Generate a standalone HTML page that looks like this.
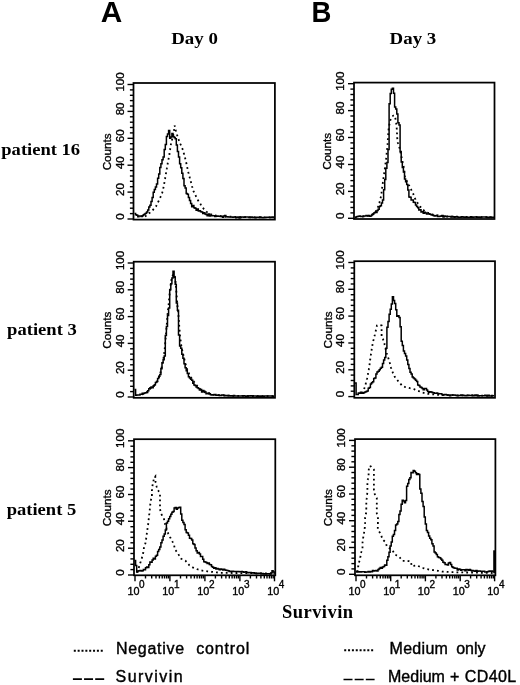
<!DOCTYPE html>
<html><head><meta charset="utf-8"><style>
html,body{margin:0;padding:0;background:#fff;}
body{width:520px;height:685px;overflow:hidden;}
svg{display:block;will-change:transform;}
</style></head><body>
<svg width="520" height="685" viewBox="0 0 520 685">
<rect width="520" height="685" fill="#fff"/>
<path d="M134.5,213.4H135.6V214.8H136.7V215.2H137.8V216.7H138.9V216.1H140.0V215.9H141.1V216.5H142.2V215.7H143.3V214.7H144.4V214.1H145.5V213.2H146.6V212.0H147.7V210.0H148.8V207.1H149.9V205.2H151.0V201.6H152.1V197.6H153.2V192.2H154.3V189.5H155.4V186.9H156.5V184.1H157.6V178.2H158.7V174.0H159.8V167.5H160.9V163.8H162.0V159.7H163.1V156.9H164.2V149.4H165.3V144.6H166.4V136.4H167.5V134.1H168.6V130.5H169.7V138.2H170.8V136.9H171.9V133.4H173.0V136.4H174.1V137.5H175.2V138.8H176.3V145.0H177.4V151.6H178.5V157.1H179.6V163.7H180.7V167.7H181.8V173.2H182.9V178.4H184.0V185.7H185.1V188.1H186.2V193.6H187.3V194.2H188.4V197.6H189.5V200.6H190.6V203.5H191.7V206.7H192.8V205.5H193.9V207.8H195.0V208.2H196.1V210.3H197.2V208.9H198.3V211.1H199.4V210.8H200.5V211.8H201.6V212.1H202.7V213.4H203.8V212.8H204.9V214.0H206.0V214.6H207.1V215.8H208.2V214.1H209.3V215.9H210.4V215.8H211.5V215.4H212.6V215.8H213.7V215.7H214.8V216.6H215.9V216.2H217.0V216.1H218.1V216.2H219.2V216.3H220.3V216.4H221.4V216.3H222.5V217.3H223.6V216.1H224.7V215.6H225.8V216.8H226.9V216.8H228.0V217.0H229.1V216.9H230.2V216.9H231.3V217.1H232.4V217.3H233.5V216.9H234.6V217.0H235.7V217.7H236.8V217.3H237.9V216.9H239.0V217.9H240.1V217.4H241.2V217.0H242.3V216.9H243.4V217.3H244.5V217.0H245.6V216.9H246.7V216.9H247.8V217.1H248.9V217.6H250.0V217.2H251.1V216.9H252.2V217.5H253.3V217.3H254.4V217.6H255.5V217.7H256.6V217.3H257.7V217.3H258.8V217.4H259.9V217.1H261.0V217.6H262.1V217.8H263.2V217.5H264.3V217.4H265.4V217.4H266.5V217.2H267.6V217.2H268.7V217.3H269.8V217.2H270.9V217.4H272.0V217.0H273.1V217.6H274.0" fill="none" stroke="#000" stroke-width="1.5" stroke-linejoin="miter"/>
<polyline points="145.0,216.5 146.0,215.7 146.9,214.9 147.9,214.2 148.9,213.4 149.8,212.7 150.7,211.9 151.6,211.2 152.5,210.5 153.2,209.6 154.0,208.7 154.7,207.9 155.5,207.0 156.2,206.1 156.6,205.2 157.1,204.3 157.6,203.4 158.0,202.4 158.4,201.5 158.9,200.6 159.4,199.7 159.8,198.8 160.2,197.8 160.6,196.7 161.0,195.7 161.5,194.6 161.9,193.6 162.3,192.5 162.7,191.5 162.9,190.4 163.1,189.4 163.3,188.3 163.5,187.3 163.7,186.2 163.9,185.2 164.1,184.1 164.3,183.1 164.5,182.0 164.7,181.0 164.9,179.9 165.1,178.9 165.2,177.9 165.4,176.9 165.6,175.8 165.7,174.8 165.9,173.8 166.1,172.8 166.3,171.8 166.4,170.8 166.6,169.7 166.8,168.7 166.9,167.7 167.1,166.7 167.3,165.6 167.5,164.6 167.7,163.5 167.9,162.4 168.1,161.4 168.3,160.3 168.5,159.3 168.7,158.2 168.9,157.1 169.1,156.1 169.3,155.0 169.5,154.0 169.6,153.0 169.8,151.9 169.9,150.9 170.1,149.9 170.2,148.9 170.4,147.9 170.5,146.8 170.7,145.8 170.8,144.8 171.1,143.6 171.4,142.5 171.6,141.3 171.9,140.2 172.2,139.0 172.4,138.0 172.7,137.0 172.9,136.1 173.2,135.1 173.4,134.1 173.7,133.1 173.8,132.0 174.0,130.9 174.1,129.8 174.2,128.8 174.3,127.7 174.5,126.6 174.6,125.5 174.9,126.6 175.2,127.7 175.4,128.8 175.7,129.9 176.0,131.0 176.3,132.0 176.6,133.0 176.9,134.0 177.1,135.0 177.4,136.0 177.7,137.0 178.0,138.0 178.4,139.0 178.8,140.0 179.2,141.0 179.6,142.0 180.0,143.0 180.4,144.0 180.9,145.1 181.3,146.1 181.7,147.1 182.2,148.2 182.6,149.2 182.9,150.2 183.2,151.2 183.5,152.3 183.8,153.3 184.1,154.3 184.3,155.3 184.6,156.3 184.9,157.4 185.2,158.4 185.5,159.4 185.7,160.4 185.9,161.4 186.2,162.5 186.4,163.5 186.6,164.5 186.8,165.5 187.0,166.5 187.3,167.6 187.5,168.6 187.7,169.6 187.9,170.6 188.2,171.6 188.4,172.5 188.7,173.5 188.9,174.5 189.2,175.4 189.4,176.4 189.7,177.4 189.9,178.4 190.2,179.4 190.4,180.3 190.7,181.3 191.0,182.3 191.3,183.3 191.6,184.4 191.9,185.4 192.1,186.4 192.4,187.4 192.7,188.4 193.0,189.5 193.3,190.5 193.6,191.5 194.1,192.5 194.6,193.5 195.1,194.4 195.6,195.4 196.0,196.4 196.5,197.4 197.0,198.3 197.5,199.3 198.0,200.3 198.6,201.2 199.2,202.0 199.7,202.9 200.3,203.8 200.9,204.7 201.5,205.5 202.1,206.4 202.6,207.3 203.2,208.1 203.8,209.0 204.5,209.7 205.3,210.5 206.0,211.2 206.7,211.9 207.5,212.7 208.2,213.4 209.2,213.7 210.1,214.0 211.1,214.3 212.1,214.6 213.1,214.9 214.0,215.2 215.0,215.5 216.0,215.6 217.0,215.7 218.0,215.8 219.0,215.9 220.0,216.0 221.0,216.1 222.0,216.2 223.0,216.3 224.0,216.4 225.0,216.5 226.0,216.5 227.0,216.6 228.0,216.6 229.0,216.6 230.0,216.7 231.0,216.7 232.0,216.7 233.0,216.8 234.0,216.8 235.0,216.8 236.0,216.9 237.0,216.9 238.0,217.0 239.0,217.0 240.0,217.0 241.0,217.1 242.0,217.1 243.0,217.1 244.0,217.2 245.0,217.2 246.0,217.2 247.0,217.2 248.0,217.2 249.0,217.2 250.0,217.3 251.0,217.3 252.0,217.3 253.0,217.3 254.0,217.3 255.0,217.3 256.0,217.3 257.0,217.3 258.0,217.3 259.0,217.3 260.0,217.4 261.0,217.4 262.0,217.4 263.0,217.4 264.0,217.4 265.0,217.4 266.0,217.4 267.0,217.4 268.0,217.4 269.0,217.4 270.0,217.5 271.0,217.5 272.0,217.5 273.0,217.5 274.0,217.5" fill="none" stroke="#000" stroke-width="1.8" stroke-dasharray="1.8 3.1"/>
<rect x="133.5" y="83.0" width="141.4" height="136.6" fill="none" stroke="#000" stroke-width="1.75"/>
<line x1="127.5" y1="219.0" x2="133.5" y2="219.0" stroke="#000" stroke-width="1.4"/>
<line x1="129.9" y1="213.6" x2="133.5" y2="213.6" stroke="#000" stroke-width="1.4"/>
<line x1="129.9" y1="208.2" x2="133.5" y2="208.2" stroke="#000" stroke-width="1.4"/>
<line x1="129.9" y1="202.9" x2="133.5" y2="202.9" stroke="#000" stroke-width="1.4"/>
<line x1="129.9" y1="197.5" x2="133.5" y2="197.5" stroke="#000" stroke-width="1.4"/>
<line x1="127.5" y1="192.1" x2="133.5" y2="192.1" stroke="#000" stroke-width="1.4"/>
<line x1="129.9" y1="186.7" x2="133.5" y2="186.7" stroke="#000" stroke-width="1.4"/>
<line x1="129.9" y1="181.3" x2="133.5" y2="181.3" stroke="#000" stroke-width="1.4"/>
<line x1="129.9" y1="176.0" x2="133.5" y2="176.0" stroke="#000" stroke-width="1.4"/>
<line x1="129.9" y1="170.6" x2="133.5" y2="170.6" stroke="#000" stroke-width="1.4"/>
<line x1="127.5" y1="165.2" x2="133.5" y2="165.2" stroke="#000" stroke-width="1.4"/>
<line x1="129.9" y1="159.8" x2="133.5" y2="159.8" stroke="#000" stroke-width="1.4"/>
<line x1="129.9" y1="154.4" x2="133.5" y2="154.4" stroke="#000" stroke-width="1.4"/>
<line x1="129.9" y1="149.1" x2="133.5" y2="149.1" stroke="#000" stroke-width="1.4"/>
<line x1="129.9" y1="143.7" x2="133.5" y2="143.7" stroke="#000" stroke-width="1.4"/>
<line x1="127.5" y1="138.3" x2="133.5" y2="138.3" stroke="#000" stroke-width="1.4"/>
<line x1="129.9" y1="132.9" x2="133.5" y2="132.9" stroke="#000" stroke-width="1.4"/>
<line x1="129.9" y1="127.5" x2="133.5" y2="127.5" stroke="#000" stroke-width="1.4"/>
<line x1="129.9" y1="122.2" x2="133.5" y2="122.2" stroke="#000" stroke-width="1.4"/>
<line x1="129.9" y1="116.8" x2="133.5" y2="116.8" stroke="#000" stroke-width="1.4"/>
<line x1="127.5" y1="111.4" x2="133.5" y2="111.4" stroke="#000" stroke-width="1.4"/>
<line x1="129.9" y1="106.0" x2="133.5" y2="106.0" stroke="#000" stroke-width="1.4"/>
<line x1="129.9" y1="100.6" x2="133.5" y2="100.6" stroke="#000" stroke-width="1.4"/>
<line x1="129.9" y1="95.3" x2="133.5" y2="95.3" stroke="#000" stroke-width="1.4"/>
<line x1="129.9" y1="89.9" x2="133.5" y2="89.9" stroke="#000" stroke-width="1.4"/>
<line x1="127.5" y1="84.5" x2="133.5" y2="84.5" stroke="#000" stroke-width="1.4"/>
<text transform="translate(123.5,216.5) rotate(-90)" text-anchor="middle" font-size="11.5" font-family="Liberation Sans, sans-serif" stroke="#000" stroke-width="0.35">0</text>
<text transform="translate(123.5,189.6) rotate(-90)" text-anchor="middle" font-size="11.5" font-family="Liberation Sans, sans-serif" stroke="#000" stroke-width="0.35">20</text>
<text transform="translate(123.5,162.7) rotate(-90)" text-anchor="middle" font-size="11.5" font-family="Liberation Sans, sans-serif" stroke="#000" stroke-width="0.35">40</text>
<text transform="translate(123.5,135.8) rotate(-90)" text-anchor="middle" font-size="11.5" font-family="Liberation Sans, sans-serif" stroke="#000" stroke-width="0.35">60</text>
<text transform="translate(123.5,108.9) rotate(-90)" text-anchor="middle" font-size="11.5" font-family="Liberation Sans, sans-serif" stroke="#000" stroke-width="0.35">80</text>
<text transform="translate(123.5,82.0) rotate(-90)" text-anchor="middle" font-size="11.5" font-family="Liberation Sans, sans-serif" stroke="#000" stroke-width="0.35">100</text>
<text transform="translate(110.9,151.8) rotate(-90)" text-anchor="middle" font-size="11.7" font-family="Liberation Sans, sans-serif" stroke="#000" stroke-width="0.35">Counts</text>
<path d="M355.0,217.6H356.1V216.8H357.2V216.4H358.3V216.2H359.4V215.9H360.5V216.5H361.6V216.4H362.7V216.5H363.8V216.0H364.9V216.1H366.0V215.6H367.1V215.7H368.2V215.4H369.3V216.3H370.4V215.9H371.5V214.9H372.6V214.2H373.7V213.0H374.8V212.6H375.9V212.6H377.0V210.4H378.1V209.3H379.2V206.6H380.3V205.7H381.4V203.0H382.5V199.9H383.6V189.7H384.7V179.4H385.8V168.2H386.9V162.6H388.0V149.5H389.1V103.8H390.2V93.5H391.3V89.2H392.4V88.2H393.5V93.3H394.6V106.9H395.7V109.0H396.8V114.0H397.9V122.7H399.0V125.0H400.1V151.4H401.2V162.0H402.3V167.5H403.4V172.1H404.5V178.9H405.6V181.8H406.7V184.6H407.8V189.9H408.9V197.0H410.0V197.3H411.1V200.1H412.2V199.9H413.3V202.2H414.4V202.4H415.5V205.0H416.6V206.4H417.7V207.8H418.8V210.0H419.9V209.7H421.0V212.1H422.1V211.7H423.2V213.2H424.3V212.2H425.4V213.0H426.5V214.1H427.6V214.1H428.7V213.7H429.8V214.2H430.9V214.8H432.0V214.9H433.1V215.5H434.2V215.9H435.3V215.8H436.4V215.6H437.5V216.4H438.6V216.6H439.7V216.2H440.8V215.9H441.9V215.6H443.0V216.9H444.1V216.1H445.2V216.5H446.3V216.5H447.4V216.6H448.5V216.5H449.6V216.5H450.7V217.1H451.8V216.4H452.9V216.7H454.0V217.2H455.1V216.7H456.2V216.8H457.3V217.1H458.4V217.2H459.5V217.2H460.6V216.9H461.7V216.8H462.8V217.1H463.9V217.2H465.0V216.9H466.1V217.2H467.2V217.3H468.3V217.3H469.4V217.3H470.5V216.8H471.6V217.2H472.7V217.3H473.8V216.9H474.9V217.0H476.0V217.0H477.1V217.2H478.2V217.1H479.3V217.2H480.4V217.4H481.5V216.9H482.6V216.9H483.7V217.0H484.8V217.0H485.9V217.0H487.0V217.5H488.1V217.5H489.2V217.0H490.3V217.3H491.4V217.2H492.5V217.2H493.6V217.2H494.0" fill="none" stroke="#000" stroke-width="1.5" stroke-linejoin="miter"/>
<polyline points="362.0,216.5 363.0,216.4 364.0,216.2 365.0,216.1 366.0,216.0 367.0,215.9 368.0,215.8 369.0,215.6 370.0,215.5 371.0,215.0 372.0,214.5 373.0,214.0 374.0,213.5 375.0,213.0 375.5,212.0 376.0,211.0 376.5,210.0 377.0,209.0 377.5,208.0 378.0,207.0 378.3,205.9 378.6,204.9 378.9,203.8 379.3,202.8 379.6,201.8 379.9,200.7 380.2,199.5 380.5,198.4 380.8,197.2 381.1,196.1 381.2,195.1 381.3,194.1 381.5,193.1 381.6,192.1 381.7,191.1 381.8,190.1 381.9,189.1 382.1,188.1 382.2,187.1 382.3,186.1 382.5,185.1 382.6,184.1 382.8,183.1 382.9,182.1 383.1,181.1 383.2,180.0 383.4,179.0 383.5,178.0 383.7,177.0 383.8,176.0 384.0,175.0 384.1,174.0 384.3,173.0 384.4,172.0 384.5,171.0 384.7,170.0 384.8,169.0 384.9,168.0 385.1,167.0 385.2,166.0 385.3,165.0 385.5,164.0 385.6,163.0 385.7,162.0 385.9,161.0 386.0,160.0 386.1,159.0 386.2,158.0 386.3,157.0 386.4,156.0 386.5,155.0 386.6,154.0 386.7,153.0 386.8,152.0 386.9,151.0 387.0,150.0 387.1,149.0 387.2,148.0 387.3,147.0 387.4,146.0 387.5,145.0 387.6,144.0 387.6,143.0 387.7,142.0 387.8,141.0 387.8,140.0 387.9,139.0 388.0,138.0 388.0,137.0 388.1,136.0 388.2,135.0 388.2,134.0 388.3,133.0 388.4,132.0 388.4,131.0 388.5,130.0 388.7,129.0 388.8,128.0 389.0,127.0 389.2,126.0 389.3,125.0 389.5,124.0 389.7,123.0 389.8,122.0 390.0,121.0 390.5,119.9 391.0,118.8 391.5,117.6 392.0,116.5 393.5,115.6 395.0,116.0 395.2,117.0 395.3,118.0 395.5,119.0 395.7,120.0 395.8,121.0 396.0,122.0 396.2,123.0 396.3,124.0 396.5,125.0 396.6,126.0 396.6,127.1 396.7,128.2 396.8,129.2 396.8,130.2 396.9,131.3 396.9,132.3 397.0,133.4 397.1,134.5 397.1,135.5 397.2,136.6 397.2,137.6 397.3,138.7 397.4,139.7 397.4,140.8 397.5,141.8 397.9,143.0 398.4,144.1 398.8,145.2 399.2,146.4 399.4,147.5 399.7,148.5 399.9,149.6 400.1,150.6 400.4,151.7 400.6,152.8 400.8,153.8 401.0,154.9 401.3,155.9 401.5,157.0 401.7,158.0 401.9,159.0 402.2,160.0 402.4,161.0 402.6,162.0 402.8,163.0 403.0,164.0 403.2,165.0 403.5,166.0 403.7,167.0 403.9,168.0 404.0,169.0 404.1,170.1 404.3,171.1 404.4,172.2 404.5,173.2 404.6,174.3 404.8,175.3 404.9,176.4 405.0,177.4 405.5,178.4 406.0,179.3 406.5,180.3 407.0,181.3 407.5,182.2 408.0,183.2 408.5,184.1 408.9,185.1 409.4,186.0 409.8,187.0 410.3,187.9 410.8,188.9 411.3,189.8 411.8,190.8 412.2,191.8 412.7,192.7 413.2,193.7 413.6,194.9 414.0,196.0 414.4,197.2 415.0,198.4 415.5,199.5 416.1,200.7 416.7,201.6 417.3,202.4 417.8,203.3 418.4,204.1 419.0,205.0 419.6,205.8 420.2,206.6 420.8,207.4 421.4,208.2 422.0,209.0 422.8,209.6 423.6,210.2 424.4,210.8 425.2,211.4 426.0,212.0 427.0,212.4 428.0,212.8 429.0,213.2 430.0,213.7 431.0,214.1 432.0,214.5 433.0,214.7 434.0,214.8 435.0,215.0 436.0,215.1 437.0,215.3 438.0,215.4 439.0,215.6 440.0,215.7 441.0,215.9 442.0,216.0 443.0,216.2 444.0,216.3 445.0,216.5 446.0,216.5 447.0,216.5 448.0,216.5 449.0,216.6 450.0,216.6 451.0,216.6 452.0,216.6 453.0,216.6 454.0,216.6 455.0,216.7 456.0,216.7 457.0,216.7 458.0,216.7 459.0,216.7 460.0,216.7 461.0,216.8 462.0,216.8 463.0,216.8 464.0,216.8 465.0,216.8 466.0,216.8 467.0,216.9 468.0,216.9 469.0,216.9 470.0,216.9 471.0,216.9 472.0,216.9 473.0,217.0 474.0,217.0 475.0,217.0 476.0,217.0 477.0,217.0 478.0,217.0 479.0,217.1 480.0,217.1 481.0,217.1 482.0,217.1 483.0,217.1 484.0,217.1 485.0,217.2 486.0,217.2 487.0,217.2 488.0,217.2 489.0,217.2 490.0,217.2 491.0,217.3 492.0,217.3 493.0,217.3 494.0,217.3" fill="none" stroke="#000" stroke-width="1.8" stroke-dasharray="1.8 3.1"/>
<rect x="354.0" y="82.6" width="140.5" height="136.4" fill="none" stroke="#000" stroke-width="1.75"/>
<line x1="348.0" y1="218.3" x2="354.0" y2="218.3" stroke="#000" stroke-width="1.4"/>
<line x1="350.4" y1="212.9" x2="354.0" y2="212.9" stroke="#000" stroke-width="1.4"/>
<line x1="350.4" y1="207.5" x2="354.0" y2="207.5" stroke="#000" stroke-width="1.4"/>
<line x1="350.4" y1="202.1" x2="354.0" y2="202.1" stroke="#000" stroke-width="1.4"/>
<line x1="350.4" y1="196.8" x2="354.0" y2="196.8" stroke="#000" stroke-width="1.4"/>
<line x1="348.0" y1="191.4" x2="354.0" y2="191.4" stroke="#000" stroke-width="1.4"/>
<line x1="350.4" y1="186.0" x2="354.0" y2="186.0" stroke="#000" stroke-width="1.4"/>
<line x1="350.4" y1="180.6" x2="354.0" y2="180.6" stroke="#000" stroke-width="1.4"/>
<line x1="350.4" y1="175.2" x2="354.0" y2="175.2" stroke="#000" stroke-width="1.4"/>
<line x1="350.4" y1="169.8" x2="354.0" y2="169.8" stroke="#000" stroke-width="1.4"/>
<line x1="348.0" y1="164.5" x2="354.0" y2="164.5" stroke="#000" stroke-width="1.4"/>
<line x1="350.4" y1="159.1" x2="354.0" y2="159.1" stroke="#000" stroke-width="1.4"/>
<line x1="350.4" y1="153.7" x2="354.0" y2="153.7" stroke="#000" stroke-width="1.4"/>
<line x1="350.4" y1="148.3" x2="354.0" y2="148.3" stroke="#000" stroke-width="1.4"/>
<line x1="350.4" y1="142.9" x2="354.0" y2="142.9" stroke="#000" stroke-width="1.4"/>
<line x1="348.0" y1="137.5" x2="354.0" y2="137.5" stroke="#000" stroke-width="1.4"/>
<line x1="350.4" y1="132.2" x2="354.0" y2="132.2" stroke="#000" stroke-width="1.4"/>
<line x1="350.4" y1="126.8" x2="354.0" y2="126.8" stroke="#000" stroke-width="1.4"/>
<line x1="350.4" y1="121.4" x2="354.0" y2="121.4" stroke="#000" stroke-width="1.4"/>
<line x1="350.4" y1="116.0" x2="354.0" y2="116.0" stroke="#000" stroke-width="1.4"/>
<line x1="348.0" y1="110.6" x2="354.0" y2="110.6" stroke="#000" stroke-width="1.4"/>
<line x1="350.4" y1="105.2" x2="354.0" y2="105.2" stroke="#000" stroke-width="1.4"/>
<line x1="350.4" y1="99.9" x2="354.0" y2="99.9" stroke="#000" stroke-width="1.4"/>
<line x1="350.4" y1="94.5" x2="354.0" y2="94.5" stroke="#000" stroke-width="1.4"/>
<line x1="350.4" y1="89.1" x2="354.0" y2="89.1" stroke="#000" stroke-width="1.4"/>
<line x1="348.0" y1="83.7" x2="354.0" y2="83.7" stroke="#000" stroke-width="1.4"/>
<text transform="translate(344.0,215.8) rotate(-90)" text-anchor="middle" font-size="11.5" font-family="Liberation Sans, sans-serif" stroke="#000" stroke-width="0.35">0</text>
<text transform="translate(344.0,188.9) rotate(-90)" text-anchor="middle" font-size="11.5" font-family="Liberation Sans, sans-serif" stroke="#000" stroke-width="0.35">20</text>
<text transform="translate(344.0,162.0) rotate(-90)" text-anchor="middle" font-size="11.5" font-family="Liberation Sans, sans-serif" stroke="#000" stroke-width="0.35">40</text>
<text transform="translate(344.0,135.0) rotate(-90)" text-anchor="middle" font-size="11.5" font-family="Liberation Sans, sans-serif" stroke="#000" stroke-width="0.35">60</text>
<text transform="translate(344.0,108.1) rotate(-90)" text-anchor="middle" font-size="11.5" font-family="Liberation Sans, sans-serif" stroke="#000" stroke-width="0.35">80</text>
<text transform="translate(344.0,81.2) rotate(-90)" text-anchor="middle" font-size="11.5" font-family="Liberation Sans, sans-serif" stroke="#000" stroke-width="0.35">100</text>
<text transform="translate(331.4,151.3) rotate(-90)" text-anchor="middle" font-size="11.7" font-family="Liberation Sans, sans-serif" stroke="#000" stroke-width="0.35">Counts</text>
<path d="M134.5,389.5H135.6V395.2H136.7V394.9H137.8V394.9H138.9V394.9H140.0V394.2H141.1V394.2H142.2V393.2H143.3V393.4H144.4V392.9H145.5V392.7H146.6V392.5H147.7V390.8H148.8V388.8H149.9V387.8H151.0V386.9H152.1V387.7H153.2V385.8H154.3V384.7H155.4V382.5H156.5V381.6H157.6V378.6H158.7V376.2H159.8V374.6H160.9V368.8H162.0V362.7H163.1V359.8H164.2V355.9H165.3V335.6H166.4V326.5H167.5V315.4H168.6V307.9H169.7V289.7H170.8V283.7H171.9V278.1H173.0V271.3H174.1V276.9H175.2V284.2H176.3V303.0H177.4V310.3H178.5V335.1H179.6V345.9H180.7V348.3H181.8V354.2H182.9V358.2H184.0V363.8H185.1V367.8H186.2V370.8H187.3V373.4H188.4V376.7H189.5V378.1H190.6V379.3H191.7V380.3H192.8V383.2H193.9V384.9H195.0V385.5H196.1V386.9H197.2V387.8H198.3V388.4H199.4V390.0H200.5V389.6H201.6V391.9H202.7V390.5H203.8V391.3H204.9V392.0H206.0V393.7H207.1V393.4H208.2V392.9H209.3V393.8H210.4V394.7H211.5V394.9H212.6V394.7H213.7V394.7H214.8V394.6H215.9V395.3H217.0V395.2H218.1V395.0H219.2V395.4H220.3V395.5H221.4V395.0H222.5V395.1H223.6V395.3H224.7V395.7H225.8V395.4H226.9V395.8H228.0V395.6H229.1V395.8H230.2V396.1H231.3V395.8H232.4V396.0H233.5V395.6H234.6V396.0H235.7V396.0H236.8V396.0H237.9V395.9H239.0V395.9H240.1V396.0H241.2V396.1H242.3V395.7H243.4V395.7H244.5V396.1H245.6V396.2H246.7V396.0H247.8V395.9H248.9V396.1H250.0V395.8H251.1V395.9H252.2V395.8H253.3V396.1H254.4V395.9H255.5V395.9H256.6V396.2H257.7V396.3H258.8V395.9H259.9V396.2H261.0V396.0H262.1V396.3H263.2V396.2H264.3V396.0H265.4V396.0H266.5V395.9H267.6V396.1H268.7V396.1H269.8V396.0H270.9V396.1H272.0V396.1H273.1V396.4H274.0" fill="none" stroke="#000" stroke-width="1.5" stroke-linejoin="miter"/>
<polyline points="142.0,394.5 143.0,394.1 144.0,393.8 145.0,393.4 146.0,393.0 146.8,392.2 147.6,391.4 148.4,390.6 149.2,389.8 150.0,389.0 150.8,388.4 151.6,387.8 152.4,387.2 153.2,386.6 154.0,386.0 154.6,385.2 155.2,384.3 155.8,383.5 156.3,382.7 156.9,381.8 157.5,381.0 157.9,380.0 158.3,379.0 158.8,378.0 159.2,377.0 159.6,376.0 160.0,375.0 160.2,374.0 160.4,373.0 160.6,372.0 160.9,371.0 161.1,370.0 161.3,369.0 161.5,368.0 161.7,367.0 161.9,366.0 162.1,365.0 162.4,364.0 162.6,363.0 162.8,362.0 163.0,361.0 163.2,360.0 163.3,359.0 163.5,358.0 163.7,357.0 163.8,356.0 164.0,355.0 164.1,354.0 164.2,353.0 164.3,352.0 164.4,351.0 164.6,350.0 164.7,349.0 164.8,348.0 164.9,347.0 165.0,346.0 165.1,345.0 165.2,344.0 165.2,343.0 165.3,342.0 165.4,341.0 165.5,340.0 165.6,339.0 165.7,338.0 165.8,337.0 165.8,336.0 165.9,335.0 166.0,334.0 166.1,333.0 166.2,332.0 166.2,331.0 166.3,330.0 166.4,329.0 166.5,328.0 166.6,327.0 166.6,326.0 166.7,325.0 166.8,324.0 166.9,323.0 167.0,322.0 167.0,321.0 167.1,320.0 167.2,319.0 167.3,318.0 167.3,317.0 167.4,316.0 167.5,315.0 167.6,314.0 167.7,313.0 167.8,312.0 167.9,311.0 168.1,310.0 168.2,309.0 168.3,308.0 168.4,307.0 168.5,306.0 168.6,305.0 168.7,304.0 168.8,303.0 168.9,302.0 168.9,301.0 169.0,300.0 169.1,299.0 169.2,298.0 169.3,297.0 169.4,296.0 169.5,295.0 169.6,294.0 169.7,293.0 169.8,292.0 169.9,291.0 170.0,290.0 170.1,289.0 170.2,288.0 170.4,287.0 170.5,286.0 170.6,285.0 170.8,284.0 170.9,283.0 171.0,282.0 171.2,281.0 171.4,280.0 171.6,279.0 171.8,278.0 172.0,277.0 172.5,276.0 173.0,275.0 173.5,274.0 173.9,275.0 174.4,276.0 174.9,277.0 175.3,278.0 175.4,279.0 175.5,280.0 175.5,281.0 175.6,282.0 175.7,283.0 175.8,284.0 175.8,285.0 175.9,286.0 176.0,287.0 176.1,288.0 176.1,289.0 176.2,290.0 176.3,291.0 176.4,292.0 176.4,293.0 176.5,294.0 176.6,295.0 176.7,296.0 176.7,297.0 176.8,298.0 176.9,299.0 176.9,300.0 177.0,301.0 177.1,302.0 177.1,303.0 177.2,304.0 177.3,305.0 177.4,306.0 177.6,307.0 177.7,308.0 177.8,309.0 177.9,310.0 178.1,311.0 178.2,312.0 178.3,313.0 178.3,314.0 178.4,315.0 178.5,316.0 178.6,317.0 178.7,318.0 178.7,319.0 178.8,320.0 178.9,321.0 179.0,322.0 179.0,323.0 179.1,324.0 179.2,325.0 179.2,326.0 179.3,327.0 179.4,328.0 179.5,329.0 179.6,330.0 179.6,331.0 179.7,332.0 179.8,333.0 179.9,334.0 179.9,335.0 180.0,336.0 180.1,337.0 180.2,338.0 180.4,339.0 180.5,340.0 180.6,341.0 180.8,342.0 180.9,343.0 181.0,344.0 181.2,345.0 181.3,346.0 181.5,347.0 181.8,348.0 182.0,349.0 182.2,350.0 182.5,351.0 182.7,352.0 182.9,353.0 183.2,354.0 183.4,355.0 183.7,356.1 183.9,357.1 184.2,358.2 184.4,359.2 184.7,360.3 184.9,361.4 185.2,362.4 185.4,363.5 185.7,364.5 186.0,365.5 186.3,366.5 186.6,367.5 186.9,368.5 187.2,369.5 187.5,370.5 187.9,371.4 188.3,372.3 188.8,373.2 189.2,374.2 189.6,375.1 190.0,376.0 190.6,376.9 191.2,377.8 191.8,378.7 192.4,379.6 193.0,380.5 193.6,381.3 194.2,382.1 194.8,382.9 195.4,383.7 196.0,384.5 196.8,385.4 197.5,386.2 198.2,387.1 199.0,388.0 199.8,388.7 200.6,389.4 201.4,390.1 202.2,390.8 203.0,391.5 204.0,391.9 205.0,392.3 206.0,392.7 207.0,393.1 208.0,393.5 209.0,393.7 210.0,393.9 211.0,394.1 212.0,394.4 213.0,394.6 214.0,394.8 215.0,395.0 216.0,395.1 217.0,395.1 218.0,395.2 219.0,395.2 220.0,395.3 221.0,395.3 222.0,395.4 223.0,395.4 224.0,395.5 225.0,395.5 226.0,395.6 227.0,395.6 228.0,395.7 229.0,395.7 230.0,395.8 231.0,395.8 232.0,395.8 233.0,395.8 234.0,395.8 235.0,395.8 236.0,395.9 237.0,395.9 238.0,395.9 239.0,395.9 240.0,395.9 241.0,395.9 242.0,395.9 243.0,395.9 244.0,395.9 245.0,395.9 246.0,395.9 247.0,396.0 248.0,396.0 249.0,396.0 250.0,396.0 251.0,396.0 252.0,396.0 253.0,396.0 254.0,396.0 255.0,396.0 256.0,396.0 257.0,396.0 258.0,396.1 259.0,396.1 260.0,396.1 261.0,396.1 262.0,396.1 263.0,396.1 264.0,396.1 265.0,396.1 266.0,396.1 267.0,396.1 268.0,396.1 269.0,396.2 270.0,396.2 271.0,396.2 272.0,396.2 273.0,396.2 274.0,396.2" fill="none" stroke="#000" stroke-width="1.8" stroke-dasharray="1.8 3.1"/>
<rect x="133.7" y="261.7" width="141.3" height="136.1" fill="none" stroke="#000" stroke-width="1.75"/>
<line x1="127.7" y1="397.0" x2="133.7" y2="397.0" stroke="#000" stroke-width="1.4"/>
<line x1="130.1" y1="391.6" x2="133.7" y2="391.6" stroke="#000" stroke-width="1.4"/>
<line x1="130.1" y1="386.3" x2="133.7" y2="386.3" stroke="#000" stroke-width="1.4"/>
<line x1="130.1" y1="380.9" x2="133.7" y2="380.9" stroke="#000" stroke-width="1.4"/>
<line x1="130.1" y1="375.6" x2="133.7" y2="375.6" stroke="#000" stroke-width="1.4"/>
<line x1="127.7" y1="370.2" x2="133.7" y2="370.2" stroke="#000" stroke-width="1.4"/>
<line x1="130.1" y1="364.8" x2="133.7" y2="364.8" stroke="#000" stroke-width="1.4"/>
<line x1="130.1" y1="359.5" x2="133.7" y2="359.5" stroke="#000" stroke-width="1.4"/>
<line x1="130.1" y1="354.1" x2="133.7" y2="354.1" stroke="#000" stroke-width="1.4"/>
<line x1="130.1" y1="348.8" x2="133.7" y2="348.8" stroke="#000" stroke-width="1.4"/>
<line x1="127.7" y1="343.4" x2="133.7" y2="343.4" stroke="#000" stroke-width="1.4"/>
<line x1="130.1" y1="338.0" x2="133.7" y2="338.0" stroke="#000" stroke-width="1.4"/>
<line x1="130.1" y1="332.7" x2="133.7" y2="332.7" stroke="#000" stroke-width="1.4"/>
<line x1="130.1" y1="327.3" x2="133.7" y2="327.3" stroke="#000" stroke-width="1.4"/>
<line x1="130.1" y1="322.0" x2="133.7" y2="322.0" stroke="#000" stroke-width="1.4"/>
<line x1="127.7" y1="316.6" x2="133.7" y2="316.6" stroke="#000" stroke-width="1.4"/>
<line x1="130.1" y1="311.2" x2="133.7" y2="311.2" stroke="#000" stroke-width="1.4"/>
<line x1="130.1" y1="305.9" x2="133.7" y2="305.9" stroke="#000" stroke-width="1.4"/>
<line x1="130.1" y1="300.5" x2="133.7" y2="300.5" stroke="#000" stroke-width="1.4"/>
<line x1="130.1" y1="295.2" x2="133.7" y2="295.2" stroke="#000" stroke-width="1.4"/>
<line x1="127.7" y1="289.8" x2="133.7" y2="289.8" stroke="#000" stroke-width="1.4"/>
<line x1="130.1" y1="284.4" x2="133.7" y2="284.4" stroke="#000" stroke-width="1.4"/>
<line x1="130.1" y1="279.1" x2="133.7" y2="279.1" stroke="#000" stroke-width="1.4"/>
<line x1="130.1" y1="273.7" x2="133.7" y2="273.7" stroke="#000" stroke-width="1.4"/>
<line x1="130.1" y1="268.4" x2="133.7" y2="268.4" stroke="#000" stroke-width="1.4"/>
<line x1="127.7" y1="263.0" x2="133.7" y2="263.0" stroke="#000" stroke-width="1.4"/>
<text transform="translate(123.7,394.5) rotate(-90)" text-anchor="middle" font-size="11.5" font-family="Liberation Sans, sans-serif" stroke="#000" stroke-width="0.35">0</text>
<text transform="translate(123.7,367.7) rotate(-90)" text-anchor="middle" font-size="11.5" font-family="Liberation Sans, sans-serif" stroke="#000" stroke-width="0.35">20</text>
<text transform="translate(123.7,340.9) rotate(-90)" text-anchor="middle" font-size="11.5" font-family="Liberation Sans, sans-serif" stroke="#000" stroke-width="0.35">40</text>
<text transform="translate(123.7,314.1) rotate(-90)" text-anchor="middle" font-size="11.5" font-family="Liberation Sans, sans-serif" stroke="#000" stroke-width="0.35">60</text>
<text transform="translate(123.7,287.3) rotate(-90)" text-anchor="middle" font-size="11.5" font-family="Liberation Sans, sans-serif" stroke="#000" stroke-width="0.35">80</text>
<text transform="translate(123.7,260.5) rotate(-90)" text-anchor="middle" font-size="11.5" font-family="Liberation Sans, sans-serif" stroke="#000" stroke-width="0.35">100</text>
<text transform="translate(111.1,330.2) rotate(-90)" text-anchor="middle" font-size="11.7" font-family="Liberation Sans, sans-serif" stroke="#000" stroke-width="0.35">Counts</text>
<path d="M355.0,383.1H356.1V394.5H357.2V394.6H358.3V392.9H359.4V393.2H360.5V392.3H361.6V393.3H362.7V393.3H363.8V392.6H364.9V391.9H366.0V391.6H367.1V390.9H368.2V388.3H369.3V387.6H370.4V384.0H371.5V382.7H372.6V381.8H373.7V378.6H374.8V378.1H375.9V374.1H377.0V371.9H378.1V371.2H379.2V369.7H380.3V368.2H381.4V367.3H382.5V363.4H383.6V360.1H384.7V357.6H385.8V348.3H386.9V327.3H388.0V321.4H389.1V314.3H390.2V309.2H391.3V304.0H392.4V296.8H393.5V300.4H394.6V303.4H395.7V309.7H396.8V316.2H397.9V315.7H399.0V317.6H400.1V326.7H401.2V341.3H402.3V345.4H403.4V350.9H404.5V353.4H405.6V356.0H406.7V360.1H407.8V364.4H408.9V368.5H410.0V372.2H411.1V374.1H412.2V377.0H413.3V377.9H414.4V379.1H415.5V380.2H416.6V381.6H417.7V385.1H418.8V385.4H419.9V387.1H421.0V387.6H422.1V388.5H423.2V389.7H424.3V388.5H425.4V388.4H426.5V390.0H427.6V391.6H428.7V392.2H429.8V391.7H430.9V392.0H432.0V392.6H433.1V392.7H434.2V393.2H435.3V393.3H436.4V393.0H437.5V393.5H438.6V393.8H439.7V393.7H440.8V393.8H441.9V394.7H443.0V395.1H444.1V394.5H445.2V394.6H446.3V395.1H447.4V395.0H448.5V394.9H449.6V395.7H450.7V395.0H451.8V395.1H452.9V395.1H454.0V395.1H455.1V395.3H456.2V395.6H457.3V395.8H458.4V395.6H459.5V395.4H460.6V395.1H461.7V395.4H462.8V395.2H463.9V395.4H465.0V395.8H466.1V395.6H467.2V395.4H468.3V395.3H469.4V395.5H470.5V395.6H471.6V395.3H472.7V395.4H473.8V395.8H474.9V395.1H476.0V395.5H477.1V395.3H478.2V396.1H479.3V395.8H480.4V395.8H481.5V395.8H482.6V395.8H483.7V395.8H484.8V395.3H485.9V395.8H487.0V395.9H488.1V395.3H489.2V396.0H490.3V395.9H491.4V395.4H492.5V395.7H493.6V395.7H494.0" fill="none" stroke="#000" stroke-width="1.5" stroke-linejoin="miter"/>
<polyline points="362.0,393.5 362.5,392.4 363.0,391.4 363.5,390.3 364.0,389.2 364.4,388.1 364.8,386.9 365.1,385.8 365.5,384.6 365.8,383.6 366.0,382.6 366.3,381.6 366.6,380.5 366.8,379.5 367.1,378.5 367.3,377.4 367.5,376.3 367.7,375.2 368.0,374.1 368.2,373.0 368.4,371.9 368.6,370.8 368.8,369.7 368.9,368.6 369.1,367.6 369.2,366.5 369.4,365.4 369.6,364.3 369.7,363.2 369.9,362.2 370.0,361.1 370.2,360.0 370.3,358.9 370.5,357.8 370.6,356.8 370.8,355.7 370.9,354.6 371.1,353.5 371.2,352.4 371.4,351.4 371.6,350.3 371.7,349.2 371.9,348.2 372.1,347.1 372.3,346.1 372.4,345.1 372.6,344.1 372.8,343.1 373.0,342.0 373.2,341.0 373.5,340.0 373.7,339.0 374.0,338.0 374.2,337.0 374.5,336.0 374.8,335.0 375.0,333.9 375.3,332.9 375.5,331.8 375.8,330.8 376.0,329.7 376.2,328.7 376.5,327.6 376.7,326.6 376.9,325.5 377.9,325.2 379.0,325.0 380.3,325.2 381.6,325.5 381.6,326.6 381.6,327.6 381.6,328.7 381.6,329.7 381.6,330.8 381.6,331.9 381.6,332.9 381.6,334.0 381.6,335.0 381.6,336.1 382.1,337.1 382.5,338.2 383.0,339.2 383.4,340.3 383.9,341.3 384.1,342.4 384.4,343.4 384.6,344.5 384.9,345.6 385.1,346.6 385.3,347.7 385.6,348.8 385.8,349.9 386.1,350.9 386.3,352.0 386.6,353.1 387.0,354.1 387.3,355.2 387.7,356.2 388.0,357.3 388.4,358.3 388.7,359.4 389.1,360.4 389.4,361.5 389.7,362.6 390.0,363.6 390.3,364.7 390.5,365.8 390.8,366.8 391.1,367.9 391.4,368.9 391.7,370.0 392.1,371.0 392.6,372.0 393.0,373.0 393.5,373.9 393.9,374.9 394.4,375.9 394.8,376.9 395.6,377.8 396.3,378.7 397.1,379.7 397.8,380.6 398.6,381.5 399.2,382.3 399.9,383.1 400.6,383.9 401.2,384.6 401.9,385.4 402.5,386.2 403.6,386.5 404.6,386.8 405.7,387.1 406.7,387.4 407.8,387.7 408.8,387.9 409.9,388.2 410.9,388.4 411.9,388.7 413.0,388.9 414.0,389.2 415.0,389.6 415.9,390.0 416.9,390.4 417.9,390.8 418.8,391.1 419.8,391.5 420.7,391.9 421.7,392.3 422.7,392.6 423.7,392.8 424.8,393.1 425.8,393.3 426.8,393.6 427.8,393.8 428.8,393.9 429.8,394.0 430.9,394.1 431.9,394.2 432.9,394.3 433.9,394.4 434.9,394.5 435.9,394.6 436.9,394.7 438.0,394.8 439.0,394.9 440.0,395.0 441.0,395.0 442.0,395.0 443.0,395.0 444.0,395.1 445.0,395.1 446.0,395.1 447.0,395.1 448.0,395.1 449.0,395.1 450.0,395.1 451.0,395.2 452.0,395.2 453.0,395.2 454.0,395.2 455.0,395.2 456.0,395.2 457.0,395.3 458.0,395.3 459.0,395.3 460.0,395.3 461.0,395.3 462.0,395.3 463.0,395.3 464.0,395.4 465.0,395.4 466.0,395.4 467.0,395.4 468.0,395.4 469.0,395.4 470.0,395.4 471.0,395.5 472.0,395.5 473.0,395.5 474.0,395.5 475.0,395.5 476.0,395.5 477.0,395.5 478.0,395.6 479.0,395.6 480.0,395.6 481.0,395.6 482.0,395.6 483.0,395.6 484.0,395.7 485.0,395.7 486.0,395.7 487.0,395.7 488.0,395.7 489.0,395.7 490.0,395.7 491.0,395.8 492.0,395.8 493.0,395.8 494.0,395.8" fill="none" stroke="#000" stroke-width="1.8" stroke-dasharray="1.8 3.1"/>
<rect x="354.3" y="261.2" width="140.7" height="136.6" fill="none" stroke="#000" stroke-width="1.75"/>
<line x1="348.3" y1="396.6" x2="354.3" y2="396.6" stroke="#000" stroke-width="1.4"/>
<line x1="350.7" y1="391.2" x2="354.3" y2="391.2" stroke="#000" stroke-width="1.4"/>
<line x1="350.7" y1="385.9" x2="354.3" y2="385.9" stroke="#000" stroke-width="1.4"/>
<line x1="350.7" y1="380.5" x2="354.3" y2="380.5" stroke="#000" stroke-width="1.4"/>
<line x1="350.7" y1="375.1" x2="354.3" y2="375.1" stroke="#000" stroke-width="1.4"/>
<line x1="348.3" y1="369.8" x2="354.3" y2="369.8" stroke="#000" stroke-width="1.4"/>
<line x1="350.7" y1="364.4" x2="354.3" y2="364.4" stroke="#000" stroke-width="1.4"/>
<line x1="350.7" y1="359.1" x2="354.3" y2="359.1" stroke="#000" stroke-width="1.4"/>
<line x1="350.7" y1="353.7" x2="354.3" y2="353.7" stroke="#000" stroke-width="1.4"/>
<line x1="350.7" y1="348.3" x2="354.3" y2="348.3" stroke="#000" stroke-width="1.4"/>
<line x1="348.3" y1="343.0" x2="354.3" y2="343.0" stroke="#000" stroke-width="1.4"/>
<line x1="350.7" y1="337.6" x2="354.3" y2="337.6" stroke="#000" stroke-width="1.4"/>
<line x1="350.7" y1="332.2" x2="354.3" y2="332.2" stroke="#000" stroke-width="1.4"/>
<line x1="350.7" y1="326.9" x2="354.3" y2="326.9" stroke="#000" stroke-width="1.4"/>
<line x1="350.7" y1="321.5" x2="354.3" y2="321.5" stroke="#000" stroke-width="1.4"/>
<line x1="348.3" y1="316.1" x2="354.3" y2="316.1" stroke="#000" stroke-width="1.4"/>
<line x1="350.7" y1="310.8" x2="354.3" y2="310.8" stroke="#000" stroke-width="1.4"/>
<line x1="350.7" y1="305.4" x2="354.3" y2="305.4" stroke="#000" stroke-width="1.4"/>
<line x1="350.7" y1="300.0" x2="354.3" y2="300.0" stroke="#000" stroke-width="1.4"/>
<line x1="350.7" y1="294.7" x2="354.3" y2="294.7" stroke="#000" stroke-width="1.4"/>
<line x1="348.3" y1="289.3" x2="354.3" y2="289.3" stroke="#000" stroke-width="1.4"/>
<line x1="350.7" y1="284.0" x2="354.3" y2="284.0" stroke="#000" stroke-width="1.4"/>
<line x1="350.7" y1="278.6" x2="354.3" y2="278.6" stroke="#000" stroke-width="1.4"/>
<line x1="350.7" y1="273.2" x2="354.3" y2="273.2" stroke="#000" stroke-width="1.4"/>
<line x1="350.7" y1="267.9" x2="354.3" y2="267.9" stroke="#000" stroke-width="1.4"/>
<line x1="348.3" y1="262.5" x2="354.3" y2="262.5" stroke="#000" stroke-width="1.4"/>
<text transform="translate(344.3,394.1) rotate(-90)" text-anchor="middle" font-size="11.5" font-family="Liberation Sans, sans-serif" stroke="#000" stroke-width="0.35">0</text>
<text transform="translate(344.3,367.3) rotate(-90)" text-anchor="middle" font-size="11.5" font-family="Liberation Sans, sans-serif" stroke="#000" stroke-width="0.35">20</text>
<text transform="translate(344.3,340.5) rotate(-90)" text-anchor="middle" font-size="11.5" font-family="Liberation Sans, sans-serif" stroke="#000" stroke-width="0.35">40</text>
<text transform="translate(344.3,313.6) rotate(-90)" text-anchor="middle" font-size="11.5" font-family="Liberation Sans, sans-serif" stroke="#000" stroke-width="0.35">60</text>
<text transform="translate(344.3,286.8) rotate(-90)" text-anchor="middle" font-size="11.5" font-family="Liberation Sans, sans-serif" stroke="#000" stroke-width="0.35">80</text>
<text transform="translate(344.3,260.0) rotate(-90)" text-anchor="middle" font-size="11.5" font-family="Liberation Sans, sans-serif" stroke="#000" stroke-width="0.35">100</text>
<text transform="translate(331.7,330.0) rotate(-90)" text-anchor="middle" font-size="11.7" font-family="Liberation Sans, sans-serif" stroke="#000" stroke-width="0.35">Counts</text>
<path d="M134.5,560.6H135.6V565.4H136.7V571.9H137.8V570.9H138.9V570.7H140.0V570.5H141.1V571.0H142.2V570.8H143.3V569.5H144.4V569.7H145.5V567.7H146.6V567.1H147.7V567.4H148.8V564.7H149.9V561.9H151.0V562.3H152.1V560.0H153.2V558.2H154.3V559.0H155.4V556.2H156.5V555.2H157.6V551.5H158.7V549.6H159.8V547.0H160.9V542.8H162.0V540.1H163.1V536.2H164.2V533.9H165.3V530.1H166.4V523.0H167.5V521.2H168.6V518.8H169.7V516.4H170.8V514.3H171.9V512.2H173.0V511.5H174.1V507.9H175.2V507.5H176.3V509.2H177.4V508.0H178.5V507.6H179.6V507.2H180.7V514.1H181.8V520.2H182.9V522.6H184.0V524.6H185.1V529.8H186.2V532.5H187.3V532.9H188.4V535.3H189.5V538.2H190.6V538.6H191.7V540.1H192.8V543.8H193.9V544.5H195.0V547.9H196.1V550.8H197.2V553.0H198.3V552.6H199.4V553.9H200.5V556.5H201.6V556.6H202.7V559.2H203.8V561.7H204.9V561.9H206.0V562.5H207.1V563.4H208.2V563.0H209.3V564.6H210.4V564.8H211.5V566.4H212.6V567.3H213.7V568.2H214.8V567.8H215.9V568.9H217.0V568.5H218.1V569.1H219.2V569.7H220.3V568.9H221.4V569.2H222.5V570.0H223.6V569.3H224.7V570.0H225.8V570.3H226.9V570.5H228.0V570.8H229.1V571.6H230.2V571.2H231.3V571.4H232.4V571.2H233.5V571.4H234.6V571.4H235.7V571.6H236.8V571.4H237.9V571.5H239.0V571.7H240.1V571.7H241.2V571.5H242.3V571.8H243.4V572.3H244.5V572.1H245.6V571.7H246.7V572.5H247.8V572.7H248.9V572.5H250.0V572.4H251.1V572.7H252.2V573.0H253.3V572.8H254.4V573.3H255.5V573.3H256.6V573.4H257.7V573.2H258.8V573.2H259.9V573.2H261.0V573.7H262.1V573.5H263.2V573.9H264.3V573.7H265.4V574.1H266.5V573.7H267.6V573.8H268.7V573.8H269.8V574.1H270.9V573.0H272.0V570.7H273.1V572.1H274.2V573.8H274.5" fill="none" stroke="#000" stroke-width="1.5" stroke-linejoin="miter"/>
<polyline points="137.0,572.5 137.4,571.5 137.8,570.5 138.2,569.5 138.6,568.5 138.9,567.4 139.2,566.3 139.6,565.3 139.9,564.2 140.2,563.1 140.6,562.0 140.9,560.8 141.3,559.6 141.7,558.5 142.0,557.4 142.3,556.3 142.6,555.3 142.9,554.2 143.2,553.1 143.4,552.0 143.5,550.9 143.7,549.9 143.8,548.8 144.0,547.7 144.4,546.6 144.8,545.4 145.1,544.2 145.5,543.1 145.7,542.0 145.8,540.9 146.0,539.9 146.1,538.8 146.3,537.7 146.4,536.7 146.6,535.6 146.7,534.6 146.8,533.6 147.0,532.5 147.1,531.5 147.3,530.4 147.4,529.3 147.6,528.2 147.8,527.1 147.9,526.1 148.0,525.0 148.2,524.0 148.3,522.9 148.4,521.9 148.5,520.9 148.6,519.8 148.8,518.8 148.9,517.7 149.0,516.7 149.1,515.7 149.2,514.6 149.4,513.6 149.5,512.5 149.6,511.5 149.7,510.5 149.8,509.4 149.9,508.4 150.0,507.3 150.1,506.3 150.2,505.3 150.3,504.2 150.5,503.2 150.6,502.1 150.7,501.1 150.9,500.1 151.2,499.1 151.4,498.0 151.7,497.0 151.9,496.0 151.9,495.0 151.9,493.9 151.9,492.9 151.9,491.8 151.9,490.8 152.0,489.8 152.1,488.7 152.3,487.7 152.4,486.6 152.5,485.6 152.7,484.5 152.9,483.4 153.1,482.3 153.4,481.3 153.6,480.2 153.8,479.1 154.0,478.0 155.3,476.5 155.3,477.5 155.4,478.5 155.4,479.5 155.5,480.5 155.5,481.5 155.7,482.5 156.0,483.5 156.2,484.5 156.4,485.5 156.6,486.5 156.9,487.5 157.1,488.5 157.7,489.5 158.3,490.5 158.8,491.6 159.4,492.6 160.0,493.6 160.0,494.6 160.0,495.7 160.0,496.7 160.0,497.8 160.0,498.8 160.0,499.8 160.0,500.9 160.0,501.9 160.0,503.0 160.0,504.0 160.0,505.0 160.0,506.1 160.0,507.1 160.0,508.2 160.0,509.2 160.3,510.3 160.6,511.5 160.8,512.6 161.1,513.8 161.7,514.8 162.3,515.9 162.8,516.9 163.4,518.0 164.0,519.0 164.2,520.0 164.4,521.1 164.7,522.1 164.9,523.2 165.1,524.2 165.4,525.2 165.8,526.3 166.2,527.3 166.5,528.4 166.8,529.4 167.2,530.4 167.5,531.5 167.9,532.5 168.2,533.6 168.6,534.6 169.1,535.5 169.6,536.4 170.1,537.3 170.7,538.2 171.2,539.1 171.7,540.0 172.2,540.9 172.6,541.8 173.1,542.8 173.5,543.7 174.0,544.6 174.2,545.8 174.4,546.9 174.6,548.1 174.8,549.2 175.6,550.2 176.3,551.2 177.1,552.1 177.8,553.1 178.3,554.0 178.8,554.9 179.4,555.8 179.9,556.7 180.4,557.6 180.9,558.5 181.8,559.0 182.7,559.4 183.7,559.9 184.6,560.3 185.5,560.8 186.2,561.6 186.8,562.3 187.4,563.1 188.1,563.9 188.8,564.6 189.4,565.4 190.3,566.0 191.3,566.5 192.2,567.1 193.2,567.7 194.2,568.1 195.1,568.5 196.1,568.8 197.1,569.2 198.1,569.5 199.1,569.7 200.1,570.0 201.2,570.3 202.2,570.5 203.2,570.8 204.2,570.9 205.3,571.0 206.3,571.1 207.3,571.3 208.4,571.4 209.4,571.5 210.5,571.6 211.5,571.8 212.6,571.9 213.6,572.0 214.7,572.1 215.8,572.3 216.8,572.4 217.9,572.5 218.9,572.7 220.0,572.8 221.0,572.8 222.0,572.8 223.0,572.8 224.0,572.9 225.0,572.9 226.0,572.9 227.0,572.9 228.0,572.9 229.0,572.9 230.0,572.9 231.0,572.9 232.0,573.0 233.0,573.0 234.0,573.0 235.0,573.0 236.0,573.0 237.0,573.0 238.0,573.0 239.0,573.0 240.0,573.1 241.0,573.1 242.0,573.1 243.0,573.1 244.0,573.1 245.0,573.1 246.0,573.1 247.0,573.1 248.0,573.2 249.0,573.2 250.0,573.2 251.0,573.2 252.0,573.2 253.0,573.2 254.0,573.2 255.0,573.3 256.0,573.3 257.0,573.3 258.0,573.3 259.0,573.3 260.0,573.3 261.0,573.3 262.0,573.3 263.0,573.4 264.0,573.4 265.0,573.4 266.0,573.4 267.0,573.4 268.0,573.4 269.0,573.4 270.0,573.4 271.0,573.5 272.0,573.5 273.0,573.5 274.0,573.5" fill="none" stroke="#000" stroke-width="1.8" stroke-dasharray="1.8 3.1"/>
<rect x="134.0" y="439.2" width="141.3" height="136.1" fill="none" stroke="#000" stroke-width="1.75"/>
<line x1="128.0" y1="575.0" x2="134.0" y2="575.0" stroke="#000" stroke-width="1.4"/>
<line x1="130.4" y1="569.6" x2="134.0" y2="569.6" stroke="#000" stroke-width="1.4"/>
<line x1="130.4" y1="564.3" x2="134.0" y2="564.3" stroke="#000" stroke-width="1.4"/>
<line x1="130.4" y1="558.9" x2="134.0" y2="558.9" stroke="#000" stroke-width="1.4"/>
<line x1="130.4" y1="553.5" x2="134.0" y2="553.5" stroke="#000" stroke-width="1.4"/>
<line x1="128.0" y1="548.2" x2="134.0" y2="548.2" stroke="#000" stroke-width="1.4"/>
<line x1="130.4" y1="542.8" x2="134.0" y2="542.8" stroke="#000" stroke-width="1.4"/>
<line x1="130.4" y1="537.4" x2="134.0" y2="537.4" stroke="#000" stroke-width="1.4"/>
<line x1="130.4" y1="532.1" x2="134.0" y2="532.1" stroke="#000" stroke-width="1.4"/>
<line x1="130.4" y1="526.7" x2="134.0" y2="526.7" stroke="#000" stroke-width="1.4"/>
<line x1="128.0" y1="521.3" x2="134.0" y2="521.3" stroke="#000" stroke-width="1.4"/>
<line x1="130.4" y1="516.0" x2="134.0" y2="516.0" stroke="#000" stroke-width="1.4"/>
<line x1="130.4" y1="510.6" x2="134.0" y2="510.6" stroke="#000" stroke-width="1.4"/>
<line x1="130.4" y1="505.2" x2="134.0" y2="505.2" stroke="#000" stroke-width="1.4"/>
<line x1="130.4" y1="499.8" x2="134.0" y2="499.8" stroke="#000" stroke-width="1.4"/>
<line x1="128.0" y1="494.5" x2="134.0" y2="494.5" stroke="#000" stroke-width="1.4"/>
<line x1="130.4" y1="489.1" x2="134.0" y2="489.1" stroke="#000" stroke-width="1.4"/>
<line x1="130.4" y1="483.7" x2="134.0" y2="483.7" stroke="#000" stroke-width="1.4"/>
<line x1="130.4" y1="478.4" x2="134.0" y2="478.4" stroke="#000" stroke-width="1.4"/>
<line x1="130.4" y1="473.0" x2="134.0" y2="473.0" stroke="#000" stroke-width="1.4"/>
<line x1="128.0" y1="467.6" x2="134.0" y2="467.6" stroke="#000" stroke-width="1.4"/>
<line x1="130.4" y1="462.3" x2="134.0" y2="462.3" stroke="#000" stroke-width="1.4"/>
<line x1="130.4" y1="456.9" x2="134.0" y2="456.9" stroke="#000" stroke-width="1.4"/>
<line x1="130.4" y1="451.5" x2="134.0" y2="451.5" stroke="#000" stroke-width="1.4"/>
<line x1="130.4" y1="446.2" x2="134.0" y2="446.2" stroke="#000" stroke-width="1.4"/>
<line x1="128.0" y1="440.8" x2="134.0" y2="440.8" stroke="#000" stroke-width="1.4"/>
<text transform="translate(124.0,572.5) rotate(-90)" text-anchor="middle" font-size="11.5" font-family="Liberation Sans, sans-serif" stroke="#000" stroke-width="0.35">0</text>
<text transform="translate(124.0,545.7) rotate(-90)" text-anchor="middle" font-size="11.5" font-family="Liberation Sans, sans-serif" stroke="#000" stroke-width="0.35">20</text>
<text transform="translate(124.0,518.8) rotate(-90)" text-anchor="middle" font-size="11.5" font-family="Liberation Sans, sans-serif" stroke="#000" stroke-width="0.35">40</text>
<text transform="translate(124.0,492.0) rotate(-90)" text-anchor="middle" font-size="11.5" font-family="Liberation Sans, sans-serif" stroke="#000" stroke-width="0.35">60</text>
<text transform="translate(124.0,465.1) rotate(-90)" text-anchor="middle" font-size="11.5" font-family="Liberation Sans, sans-serif" stroke="#000" stroke-width="0.35">80</text>
<text transform="translate(124.0,438.3) rotate(-90)" text-anchor="middle" font-size="11.5" font-family="Liberation Sans, sans-serif" stroke="#000" stroke-width="0.35">100</text>
<text transform="translate(111.4,507.8) rotate(-90)" text-anchor="middle" font-size="11.7" font-family="Liberation Sans, sans-serif" stroke="#000" stroke-width="0.35">Counts</text>
<line x1="135.0" y1="575.3" x2="135.0" y2="581.3" stroke="#000" stroke-width="1.4"/>
<line x1="145.5" y1="575.3" x2="145.5" y2="578.5" stroke="#000" stroke-width="1.4"/>
<line x1="151.7" y1="575.3" x2="151.7" y2="578.5" stroke="#000" stroke-width="1.4"/>
<line x1="156.0" y1="575.3" x2="156.0" y2="578.5" stroke="#000" stroke-width="1.4"/>
<line x1="159.4" y1="575.3" x2="159.4" y2="578.5" stroke="#000" stroke-width="1.4"/>
<line x1="162.2" y1="575.3" x2="162.2" y2="578.5" stroke="#000" stroke-width="1.4"/>
<line x1="164.5" y1="575.3" x2="164.5" y2="578.5" stroke="#000" stroke-width="1.4"/>
<line x1="166.6" y1="575.3" x2="166.6" y2="578.5" stroke="#000" stroke-width="1.4"/>
<line x1="168.4" y1="575.3" x2="168.4" y2="578.5" stroke="#000" stroke-width="1.4"/>
<line x1="169.9" y1="575.3" x2="169.9" y2="581.3" stroke="#000" stroke-width="1.4"/>
<line x1="180.5" y1="575.3" x2="180.5" y2="578.5" stroke="#000" stroke-width="1.4"/>
<line x1="186.6" y1="575.3" x2="186.6" y2="578.5" stroke="#000" stroke-width="1.4"/>
<line x1="191.0" y1="575.3" x2="191.0" y2="578.5" stroke="#000" stroke-width="1.4"/>
<line x1="194.4" y1="575.3" x2="194.4" y2="578.5" stroke="#000" stroke-width="1.4"/>
<line x1="197.1" y1="575.3" x2="197.1" y2="578.5" stroke="#000" stroke-width="1.4"/>
<line x1="199.5" y1="575.3" x2="199.5" y2="578.5" stroke="#000" stroke-width="1.4"/>
<line x1="201.5" y1="575.3" x2="201.5" y2="578.5" stroke="#000" stroke-width="1.4"/>
<line x1="203.3" y1="575.3" x2="203.3" y2="578.5" stroke="#000" stroke-width="1.4"/>
<line x1="204.9" y1="575.3" x2="204.9" y2="581.3" stroke="#000" stroke-width="1.4"/>
<line x1="215.4" y1="575.3" x2="215.4" y2="578.5" stroke="#000" stroke-width="1.4"/>
<line x1="221.6" y1="575.3" x2="221.6" y2="578.5" stroke="#000" stroke-width="1.4"/>
<line x1="225.9" y1="575.3" x2="225.9" y2="578.5" stroke="#000" stroke-width="1.4"/>
<line x1="229.3" y1="575.3" x2="229.3" y2="578.5" stroke="#000" stroke-width="1.4"/>
<line x1="232.1" y1="575.3" x2="232.1" y2="578.5" stroke="#000" stroke-width="1.4"/>
<line x1="234.4" y1="575.3" x2="234.4" y2="578.5" stroke="#000" stroke-width="1.4"/>
<line x1="236.5" y1="575.3" x2="236.5" y2="578.5" stroke="#000" stroke-width="1.4"/>
<line x1="238.3" y1="575.3" x2="238.3" y2="578.5" stroke="#000" stroke-width="1.4"/>
<line x1="239.9" y1="575.3" x2="239.9" y2="581.3" stroke="#000" stroke-width="1.4"/>
<line x1="250.4" y1="575.3" x2="250.4" y2="578.5" stroke="#000" stroke-width="1.4"/>
<line x1="256.5" y1="575.3" x2="256.5" y2="578.5" stroke="#000" stroke-width="1.4"/>
<line x1="260.9" y1="575.3" x2="260.9" y2="578.5" stroke="#000" stroke-width="1.4"/>
<line x1="264.3" y1="575.3" x2="264.3" y2="578.5" stroke="#000" stroke-width="1.4"/>
<line x1="267.0" y1="575.3" x2="267.0" y2="578.5" stroke="#000" stroke-width="1.4"/>
<line x1="269.4" y1="575.3" x2="269.4" y2="578.5" stroke="#000" stroke-width="1.4"/>
<line x1="271.4" y1="575.3" x2="271.4" y2="578.5" stroke="#000" stroke-width="1.4"/>
<line x1="273.2" y1="575.3" x2="273.2" y2="578.5" stroke="#000" stroke-width="1.4"/>
<line x1="274.5" y1="575.3" x2="274.5" y2="581.3" stroke="#000" stroke-width="1.4"/>
<text x="136.0" y="594.5" text-anchor="middle" font-size="10.8" font-family="Liberation Sans, sans-serif" stroke="#000" stroke-width="0.35">10<tspan font-size="10" dx="-0.5" dy="-6.3">0</tspan></text>
<text x="170.9" y="594.5" text-anchor="middle" font-size="10.8" font-family="Liberation Sans, sans-serif" stroke="#000" stroke-width="0.35">10<tspan font-size="10" dx="-0.5" dy="-6.3">1</tspan></text>
<text x="205.9" y="594.5" text-anchor="middle" font-size="10.8" font-family="Liberation Sans, sans-serif" stroke="#000" stroke-width="0.35">10<tspan font-size="10" dx="-0.5" dy="-6.3">2</tspan></text>
<text x="240.9" y="594.5" text-anchor="middle" font-size="10.8" font-family="Liberation Sans, sans-serif" stroke="#000" stroke-width="0.35">10<tspan font-size="10" dx="-0.5" dy="-6.3">3</tspan></text>
<text x="275.8" y="594.5" text-anchor="middle" font-size="10.8" font-family="Liberation Sans, sans-serif" stroke="#000" stroke-width="0.35">10<tspan font-size="10" dx="-0.5" dy="-6.3">4</tspan></text>
<path d="M356.0,572.1H357.1V571.4H358.2V572.0H359.3V571.8H360.4V571.9H361.5V571.8H362.6V571.8H363.7V571.8H364.8V572.2H365.9V571.9H367.0V571.9H368.1V571.6H369.2V572.1H370.3V571.5H371.4V571.7H372.5V570.4H373.6V571.1H374.7V570.8H375.8V570.4H376.9V571.0H378.0V569.6H379.1V568.5H380.2V567.4H381.3V568.2H382.4V567.1H383.5V566.6H384.6V565.0H385.7V565.3H386.8V560.3H387.9V556.7H389.0V552.2H390.1V546.0H391.2V541.9H392.3V536.3H393.4V534.5H394.5V530.6H395.6V525.1H396.7V523.9H397.8V521.4H398.9V514.6H400.0V511.1H401.1V504.3H402.2V500.3H403.3V501.0H404.4V502.8H405.5V500.4H406.6V486.3H407.7V483.5H408.8V479.4H409.9V477.8H411.0V472.4H412.1V472.7H413.2V470.6H414.3V471.3H415.4V472.7H416.5V474.4H417.6V473.8H418.7V474.4H419.8V489.0H420.9V493.3H422.0V501.6H423.1V506.5H424.2V517.0H425.3V523.9H426.4V530.5H427.5V532.5H428.6V535.9H429.7V538.3H430.8V539.8H431.9V543.7H433.0V546.1H434.1V551.9H435.2V552.9H436.3V554.4H437.4V556.7H438.5V557.4H439.6V557.8H440.7V558.9H441.8V560.2H442.9V562.2H444.0V562.7H445.1V564.6H446.2V564.6H447.3V565.1H448.4V563.1H449.5V562.4H450.6V564.6H451.7V566.8H452.8V567.4H453.9V567.9H455.0V568.2H456.1V568.3H457.2V569.9H458.3V569.0H459.4V569.3H460.5V570.2H461.6V569.8H462.7V569.8H463.8V569.8H464.9V570.7H466.0V569.5H467.1V569.7H468.2V570.3H469.3V569.5H470.4V570.2H471.5V571.1H472.6V570.5H473.7V570.9H474.8V571.2H475.9V570.6H477.0V571.2H478.1V571.0H479.2V570.9H480.3V571.3H481.4V571.5H482.5V571.3H483.6V571.3H484.7V571.9H485.8V571.9H486.9V571.7H488.0V571.5H489.1V571.1H490.2V571.2H491.3V571.1H492.4V571.6H493.5V571.8H493.5" fill="none" stroke="#000" stroke-width="1.5" stroke-linejoin="miter"/>
<polyline points="357.0,572.0 357.4,570.6 357.8,569.2 358.0,568.1 358.1,567.0 358.3,566.0 358.4,564.9 358.6,563.8 358.9,562.7 359.2,561.7 359.6,560.6 359.9,559.6 360.2,558.5 360.3,557.4 360.5,556.3 360.6,555.3 360.8,554.2 360.9,553.1 361.3,552.0 361.7,550.8 362.1,549.6 362.5,548.5 362.5,547.4 362.5,546.3 362.5,545.3 362.5,544.2 362.5,543.1 362.6,542.0 362.8,540.9 362.9,539.9 363.1,538.8 363.2,537.7 363.4,536.6 363.6,535.4 363.8,534.2 364.0,533.1 364.2,532.0 364.3,530.9 364.5,529.9 364.6,528.8 364.8,527.7 364.9,526.5 365.0,525.2 365.0,524.0 365.1,522.8 365.1,521.7 365.1,520.7 365.1,519.6 365.1,518.6 365.1,517.5 365.3,516.4 365.6,515.4 365.8,514.3 366.1,513.3 366.3,512.2 366.3,511.2 366.3,510.1 366.3,509.1 366.3,508.0 366.3,507.0 366.3,505.9 366.3,504.9 366.3,503.8 366.3,502.8 366.3,501.7 366.4,500.6 366.5,499.5 366.7,498.4 366.8,497.3 366.9,496.2 367.0,495.1 367.2,494.0 367.3,492.9 367.4,491.8 367.4,490.8 367.4,489.7 367.4,488.7 367.4,487.6 367.4,486.6 367.4,485.5 367.4,484.4 367.4,483.4 367.4,482.4 367.4,481.3 367.6,480.2 367.9,479.2 368.1,478.1 368.4,477.1 368.6,476.0 368.6,475.0 368.6,473.9 368.6,472.9 368.6,471.8 368.6,470.8 368.8,469.6 368.9,468.5 369.1,467.3 369.2,466.1 371.0,466.5 371.7,467.3 372.4,468.1 373.2,468.8 373.9,469.6 373.9,470.6 373.9,471.6 373.9,472.7 373.9,473.7 373.9,474.7 373.9,475.7 373.9,476.7 373.9,477.8 373.9,478.8 373.9,479.8 373.9,480.8 373.9,481.8 373.9,482.9 373.9,483.9 373.9,484.9 373.9,485.9 373.9,486.9 373.9,488.0 373.9,489.0 373.9,490.0 374.1,491.1 374.3,492.1 374.6,493.2 374.8,494.2 375.0,495.3 375.6,496.3 376.2,497.2 376.8,498.2 376.8,499.2 376.8,500.2 376.8,501.2 376.8,502.3 376.8,503.3 376.8,504.3 376.8,505.3 376.8,506.3 376.8,507.3 376.8,508.3 376.8,509.3 376.8,510.4 376.8,511.4 376.8,512.4 376.8,513.4 377.0,514.5 377.3,515.5 377.5,516.6 377.8,517.6 378.0,518.7 378.0,519.8 378.0,520.8 377.9,521.9 377.9,522.9 377.9,524.0 377.9,525.0 377.9,526.1 377.8,527.1 377.8,528.2 377.8,529.2 378.3,530.1 378.8,531.0 379.4,531.9 379.9,532.8 380.4,533.7 380.9,534.6 381.3,535.8 381.7,536.9 382.1,538.1 382.5,539.2 383.2,540.0 384.0,540.8 384.8,541.5 385.5,542.3 385.9,543.4 386.3,544.6 386.7,545.8 387.1,546.9 388.1,547.5 389.0,548.0 389.9,548.6 390.9,549.2 391.7,550.0 392.4,550.7 393.2,551.5 393.7,552.5 394.3,553.6 394.8,554.6 395.8,555.0 396.7,555.4 397.7,555.8 398.6,556.2 399.2,557.0 399.9,557.7 400.6,558.5 401.2,559.3 401.9,560.0 402.5,560.8 403.8,560.8 405.0,560.8 406.3,560.8 407.4,561.0 408.6,561.1 409.8,561.3 410.9,561.5 411.1,562.7 411.3,563.9 411.5,565.0 411.7,566.2 412.8,566.0 413.9,565.9 414.9,565.7 416.0,565.6 417.1,565.4 418.0,565.9 418.9,566.3 419.9,566.8 420.8,567.2 421.7,567.7 422.8,568.0 423.9,568.3 424.9,568.6 426.0,568.9 427.1,569.2 428.2,569.4 429.3,569.5 430.3,569.7 431.4,569.8 432.5,570.0 433.6,570.2 434.6,570.3 435.7,570.5 436.7,570.7 437.8,570.8 438.8,571.0 439.9,571.2 440.9,571.3 442.0,571.5 443.0,571.6 444.0,571.6 445.0,571.7 446.0,571.7 447.0,571.8 448.0,571.9 449.0,571.9 450.0,572.0 451.0,572.1 452.0,572.1 453.0,572.2 454.0,572.2 455.0,572.3 456.0,572.3 457.0,572.3 458.0,572.4 459.0,572.4 460.0,572.4 461.0,572.4 462.0,572.4 463.0,572.4 464.0,572.5 465.0,572.5 466.0,572.5 467.0,572.5 468.0,572.5 469.0,572.6 470.0,572.6 471.0,572.6 472.0,572.6 473.0,572.6 474.0,572.6 475.0,572.7 476.0,572.7 477.0,572.7 478.0,572.7 479.0,572.7 480.0,572.7 481.0,572.8 482.0,572.8 483.0,572.8 484.0,572.8 485.0,572.8 486.0,572.9 487.0,572.9 488.0,572.9 489.0,572.9 490.0,572.9 491.0,572.9 492.0,573.0 493.0,573.0 494.0,573.0" fill="none" stroke="#000" stroke-width="1.8" stroke-dasharray="1.8 3.1"/>
<rect x="355.0" y="439.1" width="140.4" height="136.2" fill="none" stroke="#000" stroke-width="1.75"/>
<line x1="349.0" y1="574.3" x2="355.0" y2="574.3" stroke="#000" stroke-width="1.4"/>
<line x1="351.4" y1="568.9" x2="355.0" y2="568.9" stroke="#000" stroke-width="1.4"/>
<line x1="351.4" y1="563.6" x2="355.0" y2="563.6" stroke="#000" stroke-width="1.4"/>
<line x1="351.4" y1="558.2" x2="355.0" y2="558.2" stroke="#000" stroke-width="1.4"/>
<line x1="351.4" y1="552.9" x2="355.0" y2="552.9" stroke="#000" stroke-width="1.4"/>
<line x1="349.0" y1="547.5" x2="355.0" y2="547.5" stroke="#000" stroke-width="1.4"/>
<line x1="351.4" y1="542.2" x2="355.0" y2="542.2" stroke="#000" stroke-width="1.4"/>
<line x1="351.4" y1="536.8" x2="355.0" y2="536.8" stroke="#000" stroke-width="1.4"/>
<line x1="351.4" y1="531.5" x2="355.0" y2="531.5" stroke="#000" stroke-width="1.4"/>
<line x1="351.4" y1="526.1" x2="355.0" y2="526.1" stroke="#000" stroke-width="1.4"/>
<line x1="349.0" y1="520.7" x2="355.0" y2="520.7" stroke="#000" stroke-width="1.4"/>
<line x1="351.4" y1="515.4" x2="355.0" y2="515.4" stroke="#000" stroke-width="1.4"/>
<line x1="351.4" y1="510.0" x2="355.0" y2="510.0" stroke="#000" stroke-width="1.4"/>
<line x1="351.4" y1="504.7" x2="355.0" y2="504.7" stroke="#000" stroke-width="1.4"/>
<line x1="351.4" y1="499.3" x2="355.0" y2="499.3" stroke="#000" stroke-width="1.4"/>
<line x1="349.0" y1="494.0" x2="355.0" y2="494.0" stroke="#000" stroke-width="1.4"/>
<line x1="351.4" y1="488.6" x2="355.0" y2="488.6" stroke="#000" stroke-width="1.4"/>
<line x1="351.4" y1="483.2" x2="355.0" y2="483.2" stroke="#000" stroke-width="1.4"/>
<line x1="351.4" y1="477.9" x2="355.0" y2="477.9" stroke="#000" stroke-width="1.4"/>
<line x1="351.4" y1="472.5" x2="355.0" y2="472.5" stroke="#000" stroke-width="1.4"/>
<line x1="349.0" y1="467.2" x2="355.0" y2="467.2" stroke="#000" stroke-width="1.4"/>
<line x1="351.4" y1="461.8" x2="355.0" y2="461.8" stroke="#000" stroke-width="1.4"/>
<line x1="351.4" y1="456.5" x2="355.0" y2="456.5" stroke="#000" stroke-width="1.4"/>
<line x1="351.4" y1="451.1" x2="355.0" y2="451.1" stroke="#000" stroke-width="1.4"/>
<line x1="351.4" y1="445.8" x2="355.0" y2="445.8" stroke="#000" stroke-width="1.4"/>
<line x1="349.0" y1="440.4" x2="355.0" y2="440.4" stroke="#000" stroke-width="1.4"/>
<text transform="translate(345.0,571.8) rotate(-90)" text-anchor="middle" font-size="11.5" font-family="Liberation Sans, sans-serif" stroke="#000" stroke-width="0.35">0</text>
<text transform="translate(345.0,545.0) rotate(-90)" text-anchor="middle" font-size="11.5" font-family="Liberation Sans, sans-serif" stroke="#000" stroke-width="0.35">20</text>
<text transform="translate(345.0,518.2) rotate(-90)" text-anchor="middle" font-size="11.5" font-family="Liberation Sans, sans-serif" stroke="#000" stroke-width="0.35">40</text>
<text transform="translate(345.0,491.5) rotate(-90)" text-anchor="middle" font-size="11.5" font-family="Liberation Sans, sans-serif" stroke="#000" stroke-width="0.35">60</text>
<text transform="translate(345.0,464.7) rotate(-90)" text-anchor="middle" font-size="11.5" font-family="Liberation Sans, sans-serif" stroke="#000" stroke-width="0.35">80</text>
<text transform="translate(345.0,437.9) rotate(-90)" text-anchor="middle" font-size="11.5" font-family="Liberation Sans, sans-serif" stroke="#000" stroke-width="0.35">100</text>
<text transform="translate(332.4,507.7) rotate(-90)" text-anchor="middle" font-size="11.7" font-family="Liberation Sans, sans-serif" stroke="#000" stroke-width="0.35">Counts</text>
<line x1="356.0" y1="575.3" x2="356.0" y2="581.3" stroke="#000" stroke-width="1.4"/>
<line x1="366.5" y1="575.3" x2="366.5" y2="578.5" stroke="#000" stroke-width="1.4"/>
<line x1="372.6" y1="575.3" x2="372.6" y2="578.5" stroke="#000" stroke-width="1.4"/>
<line x1="376.9" y1="575.3" x2="376.9" y2="578.5" stroke="#000" stroke-width="1.4"/>
<line x1="380.3" y1="575.3" x2="380.3" y2="578.5" stroke="#000" stroke-width="1.4"/>
<line x1="383.0" y1="575.3" x2="383.0" y2="578.5" stroke="#000" stroke-width="1.4"/>
<line x1="385.3" y1="575.3" x2="385.3" y2="578.5" stroke="#000" stroke-width="1.4"/>
<line x1="387.4" y1="575.3" x2="387.4" y2="578.5" stroke="#000" stroke-width="1.4"/>
<line x1="389.1" y1="575.3" x2="389.1" y2="578.5" stroke="#000" stroke-width="1.4"/>
<line x1="390.7" y1="575.3" x2="390.7" y2="581.3" stroke="#000" stroke-width="1.4"/>
<line x1="401.2" y1="575.3" x2="401.2" y2="578.5" stroke="#000" stroke-width="1.4"/>
<line x1="407.3" y1="575.3" x2="407.3" y2="578.5" stroke="#000" stroke-width="1.4"/>
<line x1="411.6" y1="575.3" x2="411.6" y2="578.5" stroke="#000" stroke-width="1.4"/>
<line x1="415.0" y1="575.3" x2="415.0" y2="578.5" stroke="#000" stroke-width="1.4"/>
<line x1="417.7" y1="575.3" x2="417.7" y2="578.5" stroke="#000" stroke-width="1.4"/>
<line x1="420.1" y1="575.3" x2="420.1" y2="578.5" stroke="#000" stroke-width="1.4"/>
<line x1="422.1" y1="575.3" x2="422.1" y2="578.5" stroke="#000" stroke-width="1.4"/>
<line x1="423.9" y1="575.3" x2="423.9" y2="578.5" stroke="#000" stroke-width="1.4"/>
<line x1="425.4" y1="575.3" x2="425.4" y2="581.3" stroke="#000" stroke-width="1.4"/>
<line x1="435.9" y1="575.3" x2="435.9" y2="578.5" stroke="#000" stroke-width="1.4"/>
<line x1="442.0" y1="575.3" x2="442.0" y2="578.5" stroke="#000" stroke-width="1.4"/>
<line x1="446.4" y1="575.3" x2="446.4" y2="578.5" stroke="#000" stroke-width="1.4"/>
<line x1="449.7" y1="575.3" x2="449.7" y2="578.5" stroke="#000" stroke-width="1.4"/>
<line x1="452.5" y1="575.3" x2="452.5" y2="578.5" stroke="#000" stroke-width="1.4"/>
<line x1="454.8" y1="575.3" x2="454.8" y2="578.5" stroke="#000" stroke-width="1.4"/>
<line x1="456.8" y1="575.3" x2="456.8" y2="578.5" stroke="#000" stroke-width="1.4"/>
<line x1="458.6" y1="575.3" x2="458.6" y2="578.5" stroke="#000" stroke-width="1.4"/>
<line x1="460.2" y1="575.3" x2="460.2" y2="581.3" stroke="#000" stroke-width="1.4"/>
<line x1="470.6" y1="575.3" x2="470.6" y2="578.5" stroke="#000" stroke-width="1.4"/>
<line x1="476.7" y1="575.3" x2="476.7" y2="578.5" stroke="#000" stroke-width="1.4"/>
<line x1="481.1" y1="575.3" x2="481.1" y2="578.5" stroke="#000" stroke-width="1.4"/>
<line x1="484.4" y1="575.3" x2="484.4" y2="578.5" stroke="#000" stroke-width="1.4"/>
<line x1="487.2" y1="575.3" x2="487.2" y2="578.5" stroke="#000" stroke-width="1.4"/>
<line x1="489.5" y1="575.3" x2="489.5" y2="578.5" stroke="#000" stroke-width="1.4"/>
<line x1="491.5" y1="575.3" x2="491.5" y2="578.5" stroke="#000" stroke-width="1.4"/>
<line x1="493.3" y1="575.3" x2="493.3" y2="578.5" stroke="#000" stroke-width="1.4"/>
<line x1="494.6" y1="575.3" x2="494.6" y2="581.3" stroke="#000" stroke-width="1.4"/>
<text x="357.0" y="594.5" text-anchor="middle" font-size="10.8" font-family="Liberation Sans, sans-serif" stroke="#000" stroke-width="0.35">10<tspan font-size="10" dx="-0.5" dy="-6.3">0</tspan></text>
<text x="391.7" y="594.5" text-anchor="middle" font-size="10.8" font-family="Liberation Sans, sans-serif" stroke="#000" stroke-width="0.35">10<tspan font-size="10" dx="-0.5" dy="-6.3">1</tspan></text>
<text x="426.4" y="594.5" text-anchor="middle" font-size="10.8" font-family="Liberation Sans, sans-serif" stroke="#000" stroke-width="0.35">10<tspan font-size="10" dx="-0.5" dy="-6.3">2</tspan></text>
<text x="461.2" y="594.5" text-anchor="middle" font-size="10.8" font-family="Liberation Sans, sans-serif" stroke="#000" stroke-width="0.35">10<tspan font-size="10" dx="-0.5" dy="-6.3">3</tspan></text>
<text x="495.9" y="594.5" text-anchor="middle" font-size="10.8" font-family="Liberation Sans, sans-serif" stroke="#000" stroke-width="0.35">10<tspan font-size="10" dx="-0.5" dy="-6.3">4</tspan></text>
<rect x="493.2" y="550.3" width="2.4" height="23" fill="#000"/>
<text transform="translate(100.8,22.3) scale(1.085,1.08)" font-size="27.5" font-weight="bold" font-family="Liberation Sans, sans-serif">A</text>
<text transform="translate(311.4,22.3) scale(1.0,1.08)" font-size="27.5" font-weight="bold" font-family="Liberation Sans, sans-serif">B</text>
<text x="171.2" y="43.7" font-size="17.2" font-weight="bold" textLength="46.7" lengthAdjust="spacingAndGlyphs" font-family="Liberation Serif, serif">Day 0</text>
<text x="389.6" y="43.7" font-size="17.2" font-weight="bold" textLength="46.7" lengthAdjust="spacingAndGlyphs" font-family="Liberation Serif, serif">Day 3</text>
<text x="1.3" y="155.3" font-size="16.6" font-weight="bold" textLength="78.8" lengthAdjust="spacingAndGlyphs" font-family="Liberation Serif, serif">patient 16</text>
<text x="7.1" y="334.8" font-size="16.6" font-weight="bold" textLength="69.7" lengthAdjust="spacingAndGlyphs" font-family="Liberation Serif, serif">patient 3</text>
<text x="6.7" y="514.8" font-size="16.6" font-weight="bold" textLength="69.6" lengthAdjust="spacingAndGlyphs" font-family="Liberation Serif, serif">patient 5</text>
<text x="282" y="617.5" font-size="18.5" font-weight="bold" letter-spacing="0.45" font-family="Liberation Serif, serif">Survivin</text>
<line x1="73.8" y1="650.8" x2="104.6" y2="650.8" stroke="#000" stroke-width="2" stroke-dasharray="2 1.85"/>
<line x1="72.9" y1="679.1" x2="104.2" y2="679.1" stroke="#000" stroke-width="1.6" stroke-dasharray="9 2.15"/>
<line x1="344.2" y1="650.2" x2="375" y2="650.2" stroke="#000" stroke-width="2" stroke-dasharray="2 1.85"/>
<line x1="343.5" y1="679.5" x2="374.6" y2="679.5" stroke="#000" stroke-width="1.6" stroke-dasharray="9 2.15"/>
<text x="116" y="653.6" font-size="16" letter-spacing="0.7" font-family="Liberation Sans, sans-serif" stroke="#000" stroke-width="0.4">Negative</text>
<text x="196.2" y="653.6" font-size="16" letter-spacing="0.85" font-family="Liberation Sans, sans-serif" stroke="#000" stroke-width="0.4">control</text>
<text x="115.6" y="682" font-size="16" letter-spacing="1.45" font-family="Liberation Sans, sans-serif" stroke="#000" stroke-width="0.4">Survivin</text>
<text x="389.5" y="653.7" font-size="16" letter-spacing="0.3" font-family="Liberation Sans, sans-serif" stroke="#000" stroke-width="0.4">Medium</text>
<text x="456.2" y="653.7" font-size="16" font-family="Liberation Sans, sans-serif" stroke="#000" stroke-width="0.4">only</text>
<text x="388" y="682" font-size="16" font-family="Liberation Sans, sans-serif" stroke="#000" stroke-width="0.4">Medium</text>
<text x="450" y="682" font-size="16" font-family="Liberation Sans, sans-serif" stroke="#000" stroke-width="0.4">+</text>
<text x="464.8" y="682" font-size="16" letter-spacing="0.4" font-family="Liberation Sans, sans-serif" stroke="#000" stroke-width="0.4">CD40L</text>
</svg>
</body></html>
